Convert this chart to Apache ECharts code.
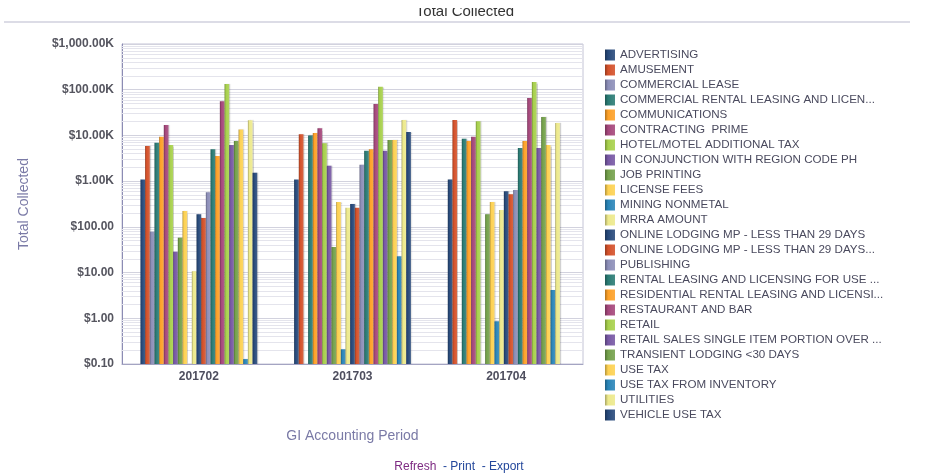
<!DOCTYPE html>
<html>
<head>
<meta charset="utf-8">
<script src="https://cdn.jsdelivr.net/npm/echarts@6/dist/echarts.min.js"></script>
<style>
html,body{margin:0;padding:0;background:#fff;}
#chart{width:930px;height:474px;}
</style>
</head>
<body>
<div id="chart"></div>
<script>
// ---------- DATA ----------
const categories = ['201702', '201703', '201704'];
const yTickValues = [0.1, 1, 10, 100, 1000, 10000, 100000, 1000000];
const yTickLabels = ['$0.10', '$1.00', '$10.00', '$100.00', '$1.00K', '$10.00K', '$100.00K', '$1,000.00K'];

const advertising        = [1080, 1080, 1080];
const amusement          = [5870, 10600, 21800];
const commercialLease    = [78, null, null];
const commercialRental   = [6930, 10000, 8490];
const communications     = [9390, 11300, 7550];
const contractingPrime   = [16900, 14300, 9390];
const hotelMotel         = [6180, 6720, 20400];
const inConjunction      = [28.6, 2180, null];
const jobPrinting        = [58, 36.3, 188];
const licenseFees        = [222, 350, 350];
const miningNonmetal     = [null, 0.21, 0.86];
const mrraAmount         = [10.7, 263, 234];
const onlineLodging      = [188, 316, 600];
const onlineLodging2     = [156, 263, 515];
const publishing         = [570, 2290, 640];
const rentalLeasing      = [4970, 4640, 5310];
const residentialRental  = [3550, 4970, 7550];
const restaurantBar      = [55700, 48700, 65900];
const retail             = [133000, 116600, 147600];
const retailSalesSingle  = [6180, 4640, 5310];
const transientLodging   = [7550, 7940, 25300];
const useTax             = [13400, 7940, 6180];
const useTaxInventory    = [0.128, 22.7, 4.16];
const utilities          = [21400, 21800, 18700];
const vehicleUseTax      = [1530, 11900, null];

const seriesNames = [
  'ADVERTISING', 'AMUSEMENT', 'COMMERCIAL LEASE', 'COMMERCIAL RENTAL LEASING AND LICEN...',
  'COMMUNICATIONS', 'CONTRACTING  PRIME', 'HOTEL/MOTEL ADDITIONAL TAX',
  'IN CONJUNCTION WITH REGION CODE PH', 'JOB PRINTING', 'LICENSE FEES', 'MINING NONMETAL',
  'MRRA AMOUNT', 'ONLINE LODGING MP - LESS THAN 29 DAYS', 'ONLINE LODGING MP - LESS THAN 29 DAYS...',
  'PUBLISHING', 'RENTAL LEASING AND LICENSING FOR USE ...', 'RESIDENTIAL RENTAL LEASING AND LICENSI...',
  'RESTAURANT AND BAR', 'RETAIL', 'RETAIL SALES SINGLE ITEM PORTION OVER ...',
  'TRANSIENT LODGING <30 DAYS', 'USE TAX', 'USE TAX FROM INVENTORY', 'UTILITIES', 'VEHICLE USE TAX'
];
const seriesValues = [
  advertising, amusement, commercialLease, commercialRental, communications, contractingPrime,
  hotelMotel, inConjunction, jobPrinting, licenseFees, miningNonmetal, mrraAmount, onlineLodging,
  onlineLodging2, publishing, rentalLeasing, residentialRental, restaurantBar, retail,
  retailSalesSingle, transientLodging, useTax, useTaxInventory, utilities, vehicleUseTax
];

// ---------- STYLE ----------
const palette = ['#27497a', '#d4512a', '#8c8eb8', '#2a7b74', '#fda128', '#a5477b',
                 '#a7d04c', '#7758a4', '#74a14b', '#fdd152', '#2a85b8', '#ede98c'];
function hexToRgb(h){ h=h.replace('#',''); return [0,2,4].map(i=>parseInt(h.substr(i,2),16)); }
function mix(c, t, a){ const r=hexToRgb(c); const tt=hexToRgb(t); return 'rgb('+r.map((v,i)=>Math.round(v*(1-a)+tt[i]*a)).join(',')+')'; }
function grad(c){
  return new echarts.graphic.LinearGradient(0,0,1,0,[
    {offset:0, color: mix(c,'#000000',0.3)},
    {offset:0.3, color: c},
    {offset:1, color: mix(c,'#ffffff',0.12)}
  ]);
}
const FONT = '"Liberation Sans", Arial, sans-serif';

// minor log grid lines (2..9 in each decade)
const minorLines = [];
for (let e = -1; e < 6; e++) {
  for (let m = 2; m <= 9; m++) minorLines.push({yAxis: m * Math.pow(10, e)});
}

const series = seriesNames.map((name, i) => {
  const s = {
    name: name,
    type: 'bar',
    data: seriesValues[i].map(v => v === null ? '-' : v),
    barGap: '0%',
    barCategoryGap: '24%',
    itemStyle: {
      color: grad(palette[i % palette.length]),
      shadowColor: 'rgba(0,0,0,0.18)',
      shadowOffsetX: 1,
      shadowBlur: 1
    },
    emphasis: {disabled: true},
    z: 3
  };
  if (i === 0) {
    s.markLine = {
      silent: true,
      symbol: 'none',
      z: 1,
      label: {show: false},
      lineStyle: {color: '#e4e4ec', type: 'solid', width: 1},
      data: minorLines,
      animation: false
    };
  }
  return s;
});

const chart = echarts.init(document.getElementById('chart'), null, {renderer: 'canvas'});
chart.setOption({
  animation: false,
  backgroundColor: '#ffffff',
  textStyle: {fontFamily: FONT},
  grid: {
    left: 122, right: 347, top: 44, bottom: 110,
    show: true, borderColor: '#c4c4d6', borderWidth: 1, containLabel: false
  },
  legend: {
    orient: 'vertical',
    left: 605, top: 49,
    padding: 0,
    itemWidth: 10, itemHeight: 11, itemGap: 3,
    icon: 'rect',
    textStyle: {fontSize: 11.6, color: '#4a4a5e', fontFamily: FONT, lineHeight: 11},
    selectedMode: false,
    data: seriesNames
  },
  xAxis: {
    type: 'category',
    data: categories,
    name: 'GI Accounting Period',
    nameLocation: 'middle',
    nameGap: 65,
    nameTextStyle: {fontSize: 14, color: '#7a7aa6', fontFamily: FONT},
    axisLine: {lineStyle: {color: '#a4a4c2'}},
    axisTick: {show: false},
    axisLabel: {fontSize: 12, fontWeight: 'bold', color: '#4e4e5e', margin: 7, fontFamily: FONT}
  },
  yAxis: {
    type: 'log',
    logBase: 10,
    min: 0.1, max: 1000000,
    startValue: 0.1,
    name: 'Total Collected',
    nameLocation: 'middle',
    nameGap: 91,
    nameRotate: 90,
    nameTextStyle: {fontSize: 14, color: '#7a7aa6', fontFamily: FONT},
    axisLine: {show: true, lineStyle: {color: '#8c8cb4'}},
    axisTick: {show: false},
    splitLine: {show: true, lineStyle: {color: '#d2d2de'}},
    axisLabel: {
      fontSize: 12, fontWeight: 'bold', color: '#55555f', margin: 8, fontFamily: FONT,
      formatter: function (v) {
        for (let k = 0; k < yTickValues.length; k++) {
          if (Math.abs(Math.log10(v) - Math.log10(yTickValues[k])) < 1e-6) return yTickLabels[k];
        }
        return '';
      }
    }
  },
  graphic: [
    {type: 'text', left: 'center', top: 4, z: 10,
     style: {text: 'Total Collected', font: '15px ' + FONT, fill: '#333333'}},
    {type: 'rect', shape: {x: 0, y: 0, width: 930, height: 8}, style: {fill: '#ffffff'}, z: 20},
    {type: 'rect', shape: {x: 4, y: 21, width: 906, height: 2}, style: {fill: '#dcdce6'}, z: 10},
    {type: 'text', x: 459, y: 461, z: 10,
     style: {
       text: '{a|Refresh}{b|  - Print  - Export}',
       align: 'center',
       rich: {
         a: {fontSize: 12, fill: '#7d2a82', fontFamily: FONT},
         b: {fontSize: 12, fill: '#23479b', fontFamily: FONT}
       }
     }}
  ],
  series: series
});
</script>
</body>
</html>
